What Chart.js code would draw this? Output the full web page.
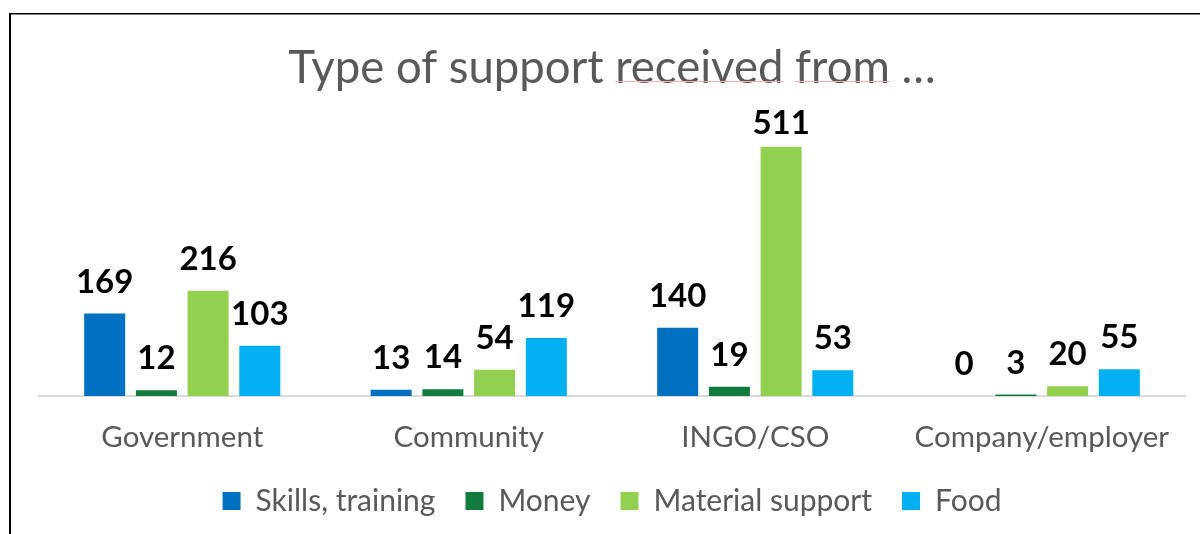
<!DOCTYPE html>
<html><head><meta charset="utf-8">
<script src="https://cdn.jsdelivr.net/npm/chart.js@4/dist/chart.umd.min.js"></script>
<style>html,body{margin:0;padding:0;background:#fff;overflow:hidden;} canvas{display:block;}</style>
</head><body>
<canvas id="c" width="1200" height="534"></canvas>
<script>
const categories = ['Government', 'Community', 'INGO/CSO', 'Company/employer'];
const seriesNames = ['Skills, training', 'Money', 'Material support', 'Food'];
const skillsTraining = [169, 13, 140, 0];
const money = [12, 14, 19, 3];
const materialSupport = [216, 54, 511, 20];
const food = [103, 119, 53, 55];
const seriesColors = ['#0070C0', '#117A3D', '#92D050', '#00B0F0'];
const titleText = 'Type of support received from …';
const FONT = 'Lato';
const TITLE_SIZE = 45.5;

const frame = {
  id: 'frame',
  beforeDraw(chart) {
    const ctx = chart.ctx;
    ctx.save();
    ctx.fillStyle = '#ffffff';
    ctx.fillRect(0, 0, chart.width, chart.height);
    ctx.fillStyle = '#000000';
    ctx.fillRect(9, 13, 2, chart.height - 13);
    ctx.fillRect(9, 13, chart.width - 9, 1.5);
    ctx.restore();
  },
  afterDraw(chart) {
    // faint spell-check style underline under "received from"
    const t = chart.titleBlock;
    if (!t) return;
    const ctx = chart.ctx;
    ctx.save();
    ctx.font = TITLE_SIZE + 'px ' + FONT;
    const full = ctx.measureText(titleText).width;
    const cx = (t.left + t.right) / 2;
    const x0 = cx - full / 2;
    const w = s => ctx.measureText(s).width;
    const y = 81.5;
    ctx.strokeStyle = '#f2b0b0';
    ctx.lineWidth = 1;
    ctx.beginPath();
    const a1 = x0 + w('Type of support '), a2 = x0 + w('Type of support received');
    const b1 = x0 + w('Type of support received '), b2 = x0 + w('Type of support received from');
    ctx.moveTo(a1, y); ctx.lineTo(a2, y);
    ctx.moveTo(b1, y); ctx.lineTo(b2, y);
    ctx.stroke();
    ctx.restore();
  }
};

const valueLabels = {
  id: 'valueLabels',
  afterDatasetsDraw(chart) {
    const ctx = chart.ctx;
    ctx.save();
    ctx.font = 'bold 33px ' + FONT;
    ctx.fillStyle = '#000000';
    ctx.textAlign = 'center';
    ctx.textBaseline = 'alphabetic';
    chart.data.datasets.forEach((ds, i) => {
      const meta = chart.getDatasetMeta(i);
      meta.data.forEach((bar, j) => {
        const y = Math.max(bar.y - 21, chart.chartArea.top + 30.5);
        ctx.fillText(String(ds.data[j]), bar.x, y);
      });
    });
    ctx.restore();
  }
};

const seriesData = [skillsTraining, money, materialSupport, food];
new Chart(document.getElementById('c'), {
  type: 'bar',
  data: {
    labels: categories,
    datasets: seriesNames.map((n, i) => ({
      label: n,
      data: seriesData[i],
      backgroundColor: seriesColors[i],
      borderWidth: 0,
      categoryPercentage: 0.722,
      barPercentage: 0.793
    }))
  },
  options: {
    responsive: false,
    animation: false,
    devicePixelRatio: 1,
    layout: { padding: { left: 39, right: 15, top: 13, bottom: 8 } },
    scales: {
      x: {
        grid: { display: false, drawTicks: false, tickLength: 0 },
        border: { display: true, color: '#d9d9d9', width: 2 },
        ticks: { font: { family: FONT, size: 29.5 }, color: '#595959', padding: 23.3 },
        afterFit(scale) { scale.height -= 22; }
      },
      y: { display: false, min: 0, max: 600 }
    },
    plugins: {
      title: {
        display: true, text: titleText,
        font: { family: FONT, size: TITLE_SIZE, weight: 'normal' },
        color: '#595959',
        padding: { top: 27.7, bottom: 8 }
      },
      legend: {
        position: 'bottom',
        labels: { boxWidth: 18, boxHeight: 18, font: { family: FONT, size: 30 }, color: '#595959', padding: 30 }
      },
      tooltip: { enabled: false }
    }
  },
  plugins: [frame, valueLabels]
});
</script>
</body></html>
